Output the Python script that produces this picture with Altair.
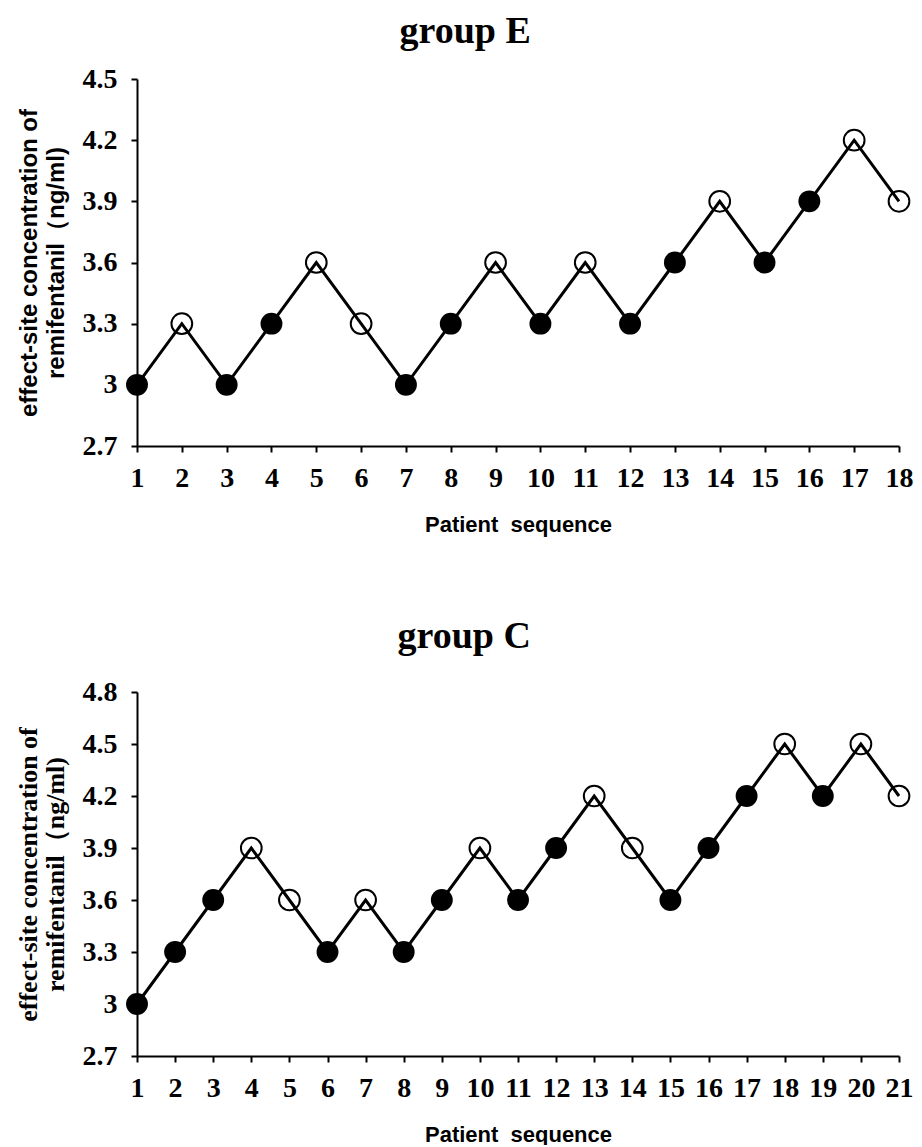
import altair as alt
import pandas as pd

# ---- data ----
e_seq = list(range(1, 19))
e_conc = [3.0, 3.3, 3.0, 3.3, 3.6, 3.3, 3.0, 3.3, 3.6, 3.3, 3.6, 3.3, 3.6, 3.9, 3.6, 3.9, 4.2, 3.9]
e_resp = ["F", "O", "F", "F", "O", "O", "F", "F", "O", "F", "O", "F", "F", "O", "F", "F", "O", "O"]
e_yticks = [2.7, 3.0, 3.3, 3.6, 3.9, 4.2, 4.5]

c_seq = list(range(1, 22))
c_conc = [3.0, 3.3, 3.6, 3.9, 3.6, 3.3, 3.6, 3.3, 3.6, 3.9, 3.6, 3.9, 4.2, 3.9, 3.6, 3.9, 4.2, 4.5, 4.2, 4.5, 4.2]
c_resp = ["F", "F", "F", "O", "O", "F", "O", "F", "F", "O", "F", "F", "O", "O", "F", "F", "F", "O", "F", "O", "O"]
c_yticks = [2.7, 3.0, 3.3, 3.6, 3.9, 4.2, 4.5, 4.8]

ytitle = ["effect-site concentration of", "remifentanil\uff08ng/ml)"]
xtitle = "Patient\u00a0\u00a0sequence"


def panel(seq, conc, resp, yticks, title, yfont, ysize, width, height, toffset):
    df = pd.DataFrame({"seq": seq, "conc": conc, "resp": resp})
    x = alt.X(
        "seq:Q",
        scale=alt.Scale(domain=[seq[0], seq[-1]], nice=False, zero=False),
        axis=alt.Axis(
            values=seq, format="d", title=xtitle, labelPadding=12,
            titleFont="Liberation Sans", titleFontSize=22, titleFontWeight="bold",
            titlePadding=22, labelFlush=False,
        ),
    )
    y = alt.Y(
        "conc:Q",
        scale=alt.Scale(domain=[yticks[0], yticks[-1]], nice=False, zero=False),
        axis=alt.Axis(
            values=yticks, format="~g", title=ytitle, labelPadding=14,
            titleFont=yfont, titleFontSize=ysize, titleFontWeight="bold",
            titlePadding=14, titleLineHeight=27,
        ),
    )
    base = alt.Chart(df)
    hollow = base.transform_filter("datum.resp == 'O'").mark_point(
        size=430, shape="circle", filled=False, stroke="black", strokeWidth=2, opacity=1
    ).encode(x=x, y=y)
    line = base.mark_line(color="black", strokeWidth=3).encode(x=x, y=y)
    filled = base.transform_filter("datum.resp == 'F'").mark_circle(
        size=480, color="black", opacity=1
    ).encode(x=x, y=y)
    return alt.layer(hollow, line, filled).properties(
        width=width,
        height=height,
        title=alt.TitleParams(
            title, font="Liberation Serif", fontSize=38, fontWeight="bold",
            color="black", anchor="middle", frame="bounds", offset=toffset,
        ),
    )


top = panel(e_seq, e_conc, e_resp, e_yticks, "group E", "Liberation Sans", 24, 762, 367, 14)
bottom = panel(c_seq, c_conc, c_resp, c_yticks, "group C", "Liberation Serif", 26, 762, 364, 22)

chart = alt.vconcat(top, bottom, spacing=83).properties(
    padding={"left": 7, "top": 5, "right": 0, "bottom": 0}
).configure_view(stroke=None).configure_axis(
    grid=False,
    domainColor="black",
    domainWidth=2,
    tickColor="black",
    tickWidth=2,
    tickSize=6,
    labelFont="Liberation Serif",
    labelFontWeight="bold",
    labelFontSize=28,
    labelColor="black",
    titleColor="black",
)

chart.save("out.html", embed_options={"renderer": "svg", "actions": False})
